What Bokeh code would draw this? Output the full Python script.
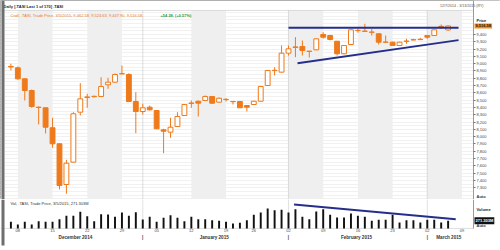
from bokeh.plotting import figure
from bokeh.layouts import column
from bokeh.models import (Range1d, FixedTicker, NumeralTickFormatter, LinearAxis,
                          Label, BoxAnnotation, ColumnDataSource)
from bokeh.embed import file_html
from bokeh.resources import INLINE

# ---------------- data ----------------
opens = [8962, 8944, 8793, 8633, 8404, 8396, 8122, 7903, 7345, 7651,
         8336, 8537, 8548, 8551, 8711, 8747, 8860, 8852, 8482, 8345,
         8404, 8359, 8094, 8062, 8140, 8290, 8455, 8486, 8496, 8551,
         8473, 8508, 8482, 8482, 8427, 8441, 8486, 8701, 8905, 8884,
         9144, 9222, 9236, 9171, 9190, 9400, 9386, 9308, 9136, 9263,
         9453, 9443, 9430, 9410, 9293, 9295, 9249, 9306, 9325, 9330,
         9386, 9386, 9508, 9462.58]
highs = [8999, 8962, 8797, 8646, 8414, 8400, 8259, 7907, 7684, 8336,
         8733, 8588, 8564, 8815, 8807, 8866, 8975, 8870, 8610, 8451,
         8427, 8362, 8108, 8259, 8336, 8445, 8496, 8496, 8564, 8553,
         8537, 8527, 8486, 8490, 8430, 8490, 8695, 8910, 8952, 9249,
         9249, 9364, 9318, 9175, 9345, 9432, 9395, 9310, 9255, 9468,
         9478, 9547, 9478, 9414, 9386, 9300, 9300, 9341, 9341, 9355,
         9392, 9468, 9537, 9524.63]
lows = [8907, 8779, 8496, 8396, 8167, 8044, 7848, 7277, 7218, 7646,
        8290, 8396, 8537, 8544, 8656, 8742, 8859, 8473, 8048, 8304,
        8359, 8105, 7774, 7985, 8133, 8288, 8396, 8277, 8490, 8450,
        8465, 8482, 8441, 8396, 8345, 8437, 8480, 8695, 8838, 8880,
        9112, 9090, 9112, 9085, 9185, 9345, 9320, 9112, 9130, 9258,
        9425, 9440, 9386, 9263, 9290, 9245, 9245, 9272, 9322, 9327,
        9341, 9380, 9478, 9447.90]
closes = [8955, 8793, 8633, 8414, 8400, 8130, 7903, 7331, 7637, 8314,
          8519, 8545, 8553, 8688, 8747, 8852, 8864, 8482, 8345, 8396,
          8368, 8108, 8075, 8130, 8277, 8441, 8462, 8459, 8551, 8459,
          8527, 8512, 8480, 8396, 8404, 8486, 8688, 8907, 8909, 9144,
          9204, 9230, 9181, 9169, 9341, 9363, 9332, 9136, 9249, 9464,
          9457, 9447, 9434, 9295, 9297, 9249, 9295, 9310, 9329, 9334,
          9363, 9464, 9512, 9516.58]
volumes_m = [236, 141, 236, 141, 257, 236, 236, 327, 447, 447,
             588, 433, 257, 503, 493, 412, 563, 447, 574, 317,
             412, 236, 377, 468, 377, 257, 412, 327, 327, 292,
             271, 236, 176, 201, 292, 482, 563, 704, 644, 658,
             563, 679, 412, 327, 598, 679, 482, 387, 387, 528,
             447, 412, 271, 306, 306, 482, 211, 292, 292, 211,
             306, 306, 211, 271.303]

week_tick_idx = [1, 6, 11, 16, 21, 26, 31, 35, 40, 45, 50, 55, 60, 65]
week_tick_labels = ["08", "15", "22", "29", "05", "12", "19", "26",
                    "02", "09", "16", "23", "02", "09"]
month_names = ["December 2014", "January 2015", "February 2015", "March 2015"]
month_label_idx = [9.3, 29.3, 49.8, 63.1]
month_start_idx = [19, 40, 60]
shaded_week_start = [1, 11, 26, 40, 50, 60]
shaded_week_end = [6, 16, 31, 45, 55, 65]
price_ticks = list(range(7300, 9401, 100))

# trend lines (drawn by the analyst)
res_x = [40.0, 64.5]
res_y = [9492, 9492]
sup_x = [41.3, 64.5]
sup_y = [9007, 9323]
vol_tr_x = [40.8, 64.1]
vol_tr_y = [845, 327]

# ---------------- style ----------------
ORANGE = "#EE7A1B"
NAVY = "#262E8C"
FONT = "Liberation Sans"
AXIS_X = 66.66          # right price axis sits here (in slot units)
XR = (-1.4986, 70.548)  # frame covers the whole 500 px width
PANE_TOP = 9728.8       # top border of the price pane
VOL_TOP = 1020
VOL_BOTTOM = -773.8     # room below the volume bars for the date axes
MONTH_AXIS_Y = -246

n = len(opens)
idx = list(range(n))
src = ColumnDataSource(dict(
    x=idx, o=opens, h=highs, l=lows, c=closes,
    top=[max(o, c) for o, c in zip(opens, closes)],
    bot=[min(o, c) for o, c in zip(opens, closes)],
    fill=["white" if c >= o else ORANGE for o, c in zip(opens, closes)],
    vol=volumes_m,
))


def lab(fig, text, x, y, size="4px", color="#333333", bold=False,
        align="left", bg=None, y_units="screen", pad=0):
    kw = dict(x=x, y=y, x_units="screen", y_units=y_units, text=text,
              text_font=FONT, text_font_size=size, text_color=color,
              text_font_style="bold" if bold else "normal",
              text_align=align, text_baseline="middle")
    if bg is not None:
        kw.update(background_fill_color=bg, background_fill_alpha=1.0, padding=pad)
    fig.add_layout(Label(**kw))


# ---------------- price pane ----------------
p = figure(width=500, height=199, x_range=Range1d(*XR),
           y_range=Range1d(7139.7, 9865.75),
           x_axis_location=None, y_axis_location="right",
           output_backend="svg", toolbar_location=None,
           min_border_left=0, min_border_right=0,
           min_border_top=0, min_border_bottom=0)
p.outline_line_color = "#b0b0b0"
p.background_fill_color = "white"
p.border_fill_color = "white"
p.xgrid.visible = False
p.ygrid.ticker = FixedTicker(ticks=list(range(7150, 9701, 50)))
p.ygrid.grid_line_color = "#f1f1f1"

ax = p.yaxis[0]
ax.fixed_location = AXIS_X
ax.ticker = FixedTicker(ticks=price_ticks)
ax.formatter = NumeralTickFormatter(format="0,0")
ax.major_label_text_font_size = "4px"
ax.major_label_text_font = FONT
ax.major_label_text_color = "#444444"
ax.axis_line_color = "#9a9a9a"
ax.major_tick_in = 0
ax.major_tick_out = 2
ax.major_tick_line_color = "#777777"
ax.minor_tick_line_color = None
ax.major_label_standoff = 1

for s, e in zip(shaded_week_start, shaded_week_end):
    p.add_layout(BoxAnnotation(left=s, right=e, top=PANE_TOP, fill_color="#efefef",
                               fill_alpha=1, line_color=None, level="underlay"))
for m in month_start_idx:
    p.add_layout(BoxAnnotation(left=m, right=m, top=PANE_TOP, fill_alpha=0,
                               line_color="#c4c4c4", line_width=1, level="underlay"))
# white label column on the right and the pane's top border
p.add_layout(BoxAnnotation(left=AXIS_X, fill_color="white", fill_alpha=1,
                           line_color=None, level="underlay"))
p.add_layout(BoxAnnotation(left=XR[0], right=AXIS_X, top=PANE_TOP, bottom=PANE_TOP,
                           fill_alpha=0, line_color="#c4c4c4", line_width=1,
                           level="underlay"))

p.segment(x0="x", y0="l", x1="x", y1="h", source=src, line_color=ORANGE, line_width=1)
p.vbar(x="x", width=0.7, top="top", bottom="bot", source=src,
       fill_color="fill", line_color=ORANGE, line_width=1)

p.line(res_x, res_y, line_color=NAVY, line_width=2)
p.line(sup_x, sup_y, line_color=NAVY, line_width=2)

lab(p, "Daily [.TASI Last 1 of 170] .TASI", 3, 193, bold=True, color="#222222")
lab(p, "Cndl, .TASI, Trade Price, 3/5/2015, 9,462.58, 9,524.63, 9,447.90, 9,516.58,",
    10, 184.3, color="#E8781E")
lab(p, "+54.28, (+0.57%)", 160, 184.3, color="#2E9A3A", bold=True)
lab(p, "12/7/2014 - 3/13/2015 (RY)", 483, 194, size="3.6px", color="#555555", align="right")
lab(p, "Price", 476, 179, bold=True, color="#222222")
lab(p, "9,516.58", 474, closes[-1], bold=True, color="#2a1400", bg="#F28C28",
    y_units="data", pad=1)
lab(p, "Auto", 476, 3, bold=True, color="#333333")
p.add_layout(BoxAnnotation(left=1, right=4, left_units="screen", right_units="screen",
                           fill_color="#6e6e6e", fill_alpha=1, line_color=None))

# ---------------- volume pane (+ date axes) ----------------
v = figure(width=500, height=51, x_range=p.x_range,
           y_range=Range1d(VOL_BOTTOM, VOL_TOP),
           y_axis_location="right", output_backend="svg", toolbar_location=None,
           min_border_left=0, min_border_right=0,
           min_border_top=0, min_border_bottom=0)
v.outline_line_color = None
v.background_fill_color = "white"
v.border_fill_color = "white"
v.grid.visible = False

vy = v.yaxis[0]
vy.fixed_location = AXIS_X
vy.bounds = (0, VOL_TOP)
vy.ticker = FixedTicker(ticks=[])
vy.axis_line_color = "#9a9a9a"
vy.minor_tick_line_color = None
vy.major_tick_line_color = None

for m in month_start_idx:
    v.add_layout(BoxAnnotation(left=m, right=m, bottom=0, fill_alpha=0,
                               line_color="#c8c8c8", line_width=1, level="underlay"))
# bottom border of the volume pane
v.add_layout(BoxAnnotation(left=XR[0], right=AXIS_X, top=0, bottom=0, fill_alpha=0,
                           line_color="#c4c4c4", line_width=1, level="underlay"))

v.vbar(x="x", width=0.28, top="vol", bottom=0, source=src,
       fill_color="#111111", line_color=None)
v.line(vol_tr_x, vol_tr_y, line_color=NAVY, line_width=2)

xa = v.xaxis[0]
xa.fixed_location = 0
xa.ticker = FixedTicker(ticks=week_tick_idx)
xa.major_label_overrides = {t: s for t, s in zip(week_tick_idx, week_tick_labels)}
xa.major_label_text_font_size = "4px"
xa.major_label_text_font = FONT
xa.major_label_text_color = "#444444"
xa.axis_line_color = None
xa.major_tick_in = 0
xa.major_tick_out = 0
xa.minor_tick_line_color = None
xa.major_label_standoff = 1

mticks = month_label_idx + month_start_idx
mlabels = month_names + ["|"] * len(month_start_idx)
ma = LinearAxis(ticker=FixedTicker(ticks=mticks), fixed_location=MONTH_AXIS_Y,
                major_label_overrides={t: s for t, s in zip(mticks, mlabels)})
ma.major_label_text_font_size = "4.6px"
ma.major_label_text_font = FONT
ma.major_label_text_font_style = "bold"
ma.major_label_text_color = "#333333"
ma.axis_line_color = None
ma.major_tick_in = 0
ma.major_tick_out = 0
ma.minor_tick_line_color = None
ma.major_label_standoff = 0
v.add_layout(ma, "below")

lab(v, "Vol, .TASI, Trade Price, 3/5/2015, 271.303M", 10, 47, color="#333333")
lab(v, "Volume", 476, 41, bold=True, color="#222222")
lab(v, "271.303M", 474, volumes_m[-1], bold=True, color="white", bg="#111111",
    y_units="data", pad=1)
lab(v, "Auto", 476, 25, bold=True, color="#333333")
v.add_layout(BoxAnnotation(left=1, right=4, bottom=5, left_units="screen",
                           right_units="screen", bottom_units="screen",
                           fill_color="#6e6e6e", fill_alpha=1, line_color=None))

layout = column(p, v, spacing=0)
open("out.html", "w").write(file_html(layout, INLINE))
